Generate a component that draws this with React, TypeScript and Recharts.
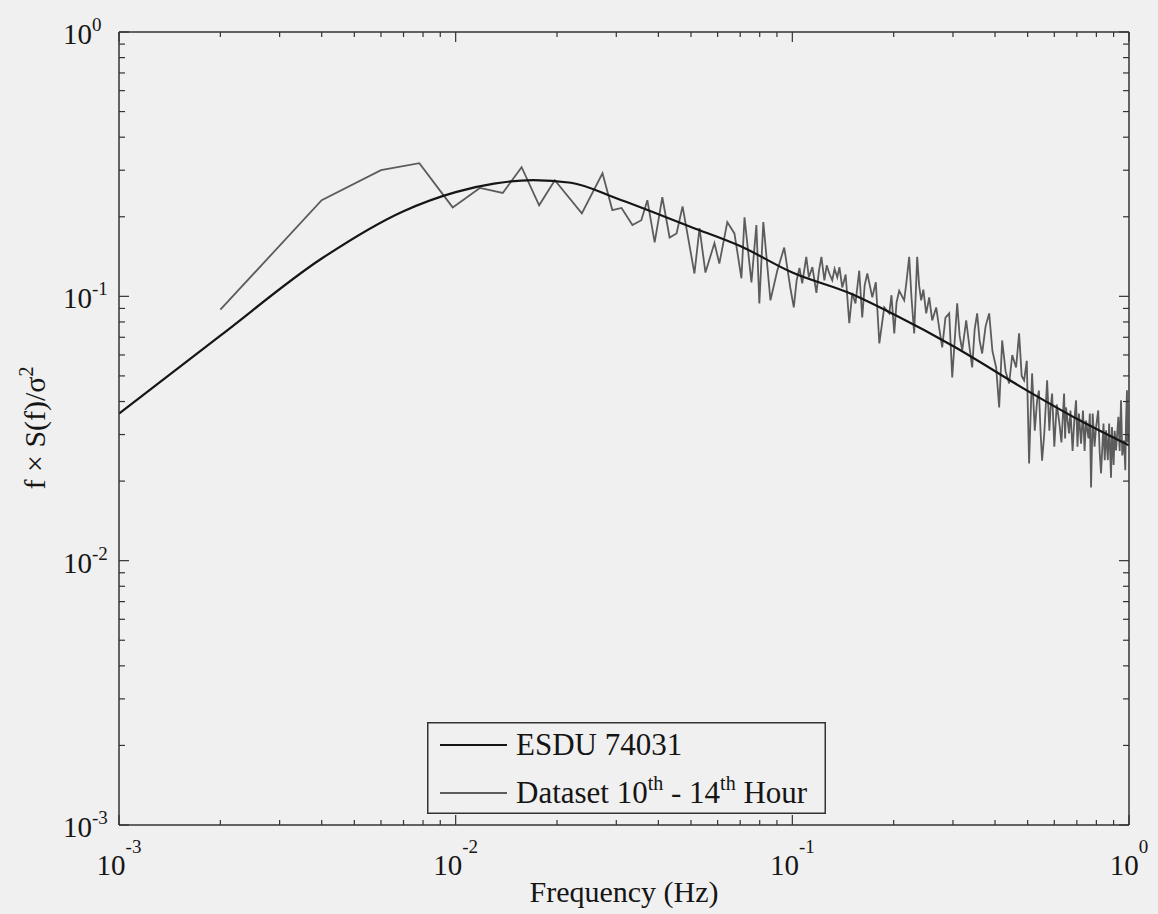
import React from 'react';
import { LineChart, Line, XAxis, YAxis, Legend } from 'recharts';

// log-log spectrum, both axes 10^-3 .. 10^0
const FREQ_TICKS = [
  0.001, 0.002, 0.003, 0.004, 0.005, 0.006, 0.007, 0.008, 0.009,
  0.01, 0.02, 0.03, 0.04, 0.05, 0.06, 0.07, 0.08, 0.09,
  0.1, 0.2, 0.3, 0.4, 0.5, 0.6, 0.7, 0.8, 0.9, 1,
];
const PSD_TICKS = [
  0.001, 0.002, 0.003, 0.004, 0.005, 0.006, 0.007, 0.008, 0.009,
  0.01, 0.02, 0.03, 0.04, 0.05, 0.06, 0.07, 0.08, 0.09,
  0.1, 0.2, 0.3, 0.4, 0.5, 0.6, 0.7, 0.8, 0.9, 1,
];

// ESDU 74031 model spectrum
const esduFreq = [0.001, 0.002, 0.004, 0.007, 0.01, 0.013, 0.017, 0.022, 0.03, 0.05, 0.07, 0.1, 0.15, 0.2, 0.3, 0.5, 0.7, 1.0];
const esduPsd = [0.036, 0.071, 0.139, 0.21, 0.248, 0.267, 0.275, 0.269, 0.235, 0.183, 0.155, 0.123, 0.102, 0.0855, 0.0649, 0.0439, 0.0344, 0.0273];

// measured spectrum, 10th - 14th hour (low / mid / high frequency stretches)
const lowFreq = [
  0.002, 0.004, 0.006, 0.0078, 0.0098, 0.0118, 0.0138, 0.0157, 0.0177, 0.0197,
  0.0237, 0.0273, 0.0292, 0.0311, 0.0335, 0.0356, 0.0371, 0.039, 0.0411, 0.0432,
  0.0453, 0.0472, 0.0512, 0.053, 0.0552, 0.0587, 0.0607, 0.0641, 0.0673, 0.0706,
  0.0721, 0.0756, 0.0782, 0.0798, 0.082, 0.0861, 0.0902, 0.0946, 0.0986, 0.101,
];
const lowPsd = [
  0.089, 0.231, 0.3, 0.319, 0.217, 0.257, 0.246, 0.308, 0.221, 0.275,
  0.206, 0.292, 0.212, 0.216, 0.186, 0.194, 0.231, 0.16, 0.237, 0.167,
  0.173, 0.219, 0.122, 0.181, 0.123, 0.159, 0.133, 0.191, 0.173, 0.117,
  0.199, 0.113, 0.186, 0.094, 0.191, 0.0966, 0.125, 0.153, 0.108, 0.0908,
];
const midFreq = [
  0.103, 0.105, 0.107, 0.11, 0.112, 0.1147, 0.1179, 0.12, 0.122, 0.1245,
  0.1265, 0.1288, 0.1314, 0.1335, 0.136, 0.138, 0.1407, 0.144, 0.1476, 0.1507,
  0.154, 0.158, 0.1613, 0.164, 0.167, 0.1728, 0.177, 0.1813, 0.1875, 0.1941,
  0.197, 0.2008, 0.204, 0.2077, 0.2149, 0.218, 0.2224, 0.226, 0.2301, 0.2349,
  0.238, 0.2414, 0.245, 0.2498, 0.255, 0.2603, 0.2675, 0.273, 0.2787, 0.285,
  0.2924, 0.2985, 0.3088, 0.314, 0.3196, 0.3284, 0.335, 0.3421, 0.348, 0.354,
  0.36, 0.3663, 0.375, 0.3843, 0.393, 0.4031, 0.4115, 0.42, 0.43, 0.4406,
  0.45, 0.462, 0.4716, 0.48, 0.488, 0.497,
];
const midPsd = [
  0.115, 0.128, 0.112, 0.141, 0.118, 0.129, 0.103, 0.125, 0.141, 0.115,
  0.131, 0.122, 0.115, 0.127, 0.118, 0.129, 0.108, 0.121, 0.0791, 0.103,
  0.094, 0.125, 0.0832, 0.11, 0.122, 0.0991, 0.113, 0.0664, 0.0908, 0.0862,
  0.101, 0.0724, 0.095, 0.105, 0.0966, 0.112, 0.141, 0.098, 0.0724, 0.141,
  0.11, 0.0966, 0.106, 0.0862, 0.099, 0.0811, 0.0908, 0.076, 0.0641, 0.083,
  0.0862, 0.0493, 0.0941, 0.071, 0.0625, 0.0811, 0.066, 0.0538, 0.075, 0.0862,
  0.068, 0.0608, 0.077, 0.0862, 0.062, 0.0538, 0.038, 0.0681, 0.052, 0.0468,
  0.06, 0.0538, 0.0724, 0.05, 0.0481, 0.057,
];
const highFreq = [
  0.505, 0.51, 0.5154, 0.525, 0.5334, 0.54, 0.546, 0.5519, 0.56, 0.5712,
  0.58, 0.585, 0.591, 0.6, 0.61, 0.6198, 0.63, 0.6415, 0.646, 0.65,
  0.6637, 0.67, 0.68, 0.688, 0.6962, 0.703, 0.71, 0.7205, 0.73, 0.738,
  0.7455, 0.758, 0.765, 0.7714, 0.78, 0.79, 0.7981, 0.81, 0.818, 0.826,
  0.84, 0.847, 0.8547, 0.865, 0.873, 0.8843, 0.89, 0.9, 0.907, 0.915,
  0.93, 0.938, 0.9469, 0.955, 0.9665, 0.975, 0.98, 0.9863, 0.99, 0.995,
];
const highPsd = [
  0.0233, 0.035, 0.0511, 0.031, 0.0404, 0.044, 0.031, 0.0239, 0.03, 0.0481,
  0.031, 0.038, 0.0429, 0.027, 0.039, 0.0339, 0.028, 0.0429, 0.029, 0.038,
  0.0303, 0.037, 0.026, 0.034, 0.0404, 0.027, 0.036, 0.0277, 0.037, 0.026,
  0.0339, 0.029, 0.036, 0.0189, 0.036, 0.027, 0.0319, 0.037, 0.026, 0.0214,
  0.033, 0.024, 0.0311, 0.024, 0.033, 0.0206, 0.032, 0.023, 0.031, 0.0261,
  0.035, 0.026, 0.0404, 0.025, 0.0285, 0.022, 0.034, 0.0441, 0.028, 0.03,
];

const esduData = esduFreq.map((f, i) => ({ f, v: esduPsd[i] }));
const datasetData = [...lowFreq, ...midFreq, ...highFreq].map((f, i) => ({
  f,
  v: [...lowPsd, ...midPsd, ...highPsd][i],
}));

const FONT = '"Liberation Serif", "Times New Roman", serif';
const BG = '#f0f0f0';
const AXIS = '#333';
const INK = '#151515';
const GREY = '#5c5c5c';

const isMajor = (v: number) => Math.abs(Math.log10(v) - Math.round(Math.log10(v))) < 1e-6;
const expOf = (v: number) => Math.round(Math.log10(v));

// ticks point inward, labels only on the major decades
const BottomTick = (props: any) => {
  const { x, y, payload } = props;
  const major = isMajor(payload.value);
  return (
    <g>
      <line x1={x} y1={y} x2={x} y2={y - (major ? 10 : 5)} stroke={AXIS} strokeWidth={1.2} />
      {major && (
        <text x={x} y={y + 50} textAnchor="middle" fontFamily={FONT} fontSize={29} fill={INK}>
          10<tspan dy={-22} fontSize={19}>{expOf(payload.value)}</tspan>
        </text>
      )}
    </g>
  );
};

const TopTick = (props: any) => {
  const { x, y, payload } = props;
  const major = isMajor(payload.value);
  return <line x1={x} y1={y} x2={x} y2={y + (major ? 10 : 5)} stroke={AXIS} strokeWidth={1.2} />;
};

const LeftTick = (props: any) => {
  const { x, y, payload } = props;
  const major = isMajor(payload.value);
  return (
    <g>
      <line x1={x} y1={y} x2={x + (major ? 10 : 6)} y2={y} stroke={AXIS} strokeWidth={1.2} />
      {major && (
        <text x={63} y={y + 12} textAnchor="start" fontFamily={FONT} fontSize={29} fill={INK}>
          10<tspan dy={-13} fontSize={19}>{expOf(payload.value)}</tspan>
        </text>
      )}
    </g>
  );
};

const RightTick = (props: any) => {
  const { x, y, payload } = props;
  const major = isMajor(payload.value);
  return <line x1={x} y1={y} x2={x - (major ? 10 : 6)} y2={y} stroke={AXIS} strokeWidth={1.2} />;
};

const LegendBox = () => (
  <svg width={399} height={92} style={{ display: 'block' }}>
    <rect x={0.75} y={0.75} width={397.5} height={90.5} fill={BG} stroke={AXIS} strokeWidth={1.5} />
    <line x1={13} y1={23} x2={80} y2={23} stroke={INK} strokeWidth={2.2} />
    <text x={89} y={33} fontFamily={FONT} fontSize={31} fill={INK}>ESDU 74031</text>
    <line x1={13} y1={71} x2={80} y2={71} stroke={GREY} strokeWidth={1.8} />
    <text x={89} y={81} fontFamily={FONT} fontSize={31} fill={INK}>
      Dataset 10<tspan dy={-13} fontSize={20}>th</tspan>
      <tspan dy={13}> - 14</tspan>
      <tspan dy={-13} fontSize={20}>th</tspan>
      <tspan dy={13}> Hour</tspan>
    </text>
  </svg>
);

export default function App() {
  const axisLine = { stroke: AXIS, strokeWidth: 1.5 };
  return (
    <div style={{ position: 'absolute', left: 0, top: 0, width: 1158, height: 914, background: BG }}>
      <LineChart width={1158} height={914} margin={{ top: 31, right: 28, bottom: 88, left: 118 }}>
        <XAxis xAxisId="b" dataKey="f" type="number" scale="log" domain={[0.001, 1]} allowDataOverflow
          ticks={FREQ_TICKS} interval={0} tick={BottomTick} tickLine={false} tickSize={0} tickMargin={0}
          height={1} axisLine={axisLine} />
        <XAxis xAxisId="t" orientation="top" dataKey="f" type="number" scale="log" domain={[0.001, 1]} allowDataOverflow
          ticks={FREQ_TICKS} interval={0} tick={TopTick} tickLine={false} tickSize={0} tickMargin={0}
          height={1} axisLine={axisLine} />
        <YAxis yAxisId="l" type="number" scale="log" domain={[0.001, 1]} allowDataOverflow
          ticks={PSD_TICKS} interval={0} tick={LeftTick} tickLine={false} tickSize={0} tickMargin={0}
          width={1} axisLine={axisLine} />
        <YAxis yAxisId="r" orientation="right" type="number" scale="log" domain={[0.001, 1]} allowDataOverflow
          ticks={PSD_TICKS} interval={0} tick={RightTick} tickLine={false} tickSize={0} tickMargin={0}
          width={1} axisLine={axisLine} />
        <Line xAxisId="b" yAxisId="l" data={datasetData} dataKey="v" name="Dataset 10th - 14th Hour"
          type="linear" stroke={GREY} strokeWidth={1.8} dot={false} isAnimationActive={false} />
        <Line xAxisId="t" yAxisId="r" data={esduData} dataKey="v" name="ESDU 74031"
          type="monotone" stroke={INK} strokeWidth={2.2} dot={false} isAnimationActive={false} />
        <Legend layout="vertical" align="center" verticalAlign="middle" content={LegendBox}
          wrapperStyle={{ position: 'absolute', left: 427, top: 722, width: 399, height: 92, margin: 0 }} />
      </LineChart>
      <svg width={1158} height={914} style={{ position: 'absolute', left: 0, top: 0, pointerEvents: 'none' }}>
        <text x={624} y={902} textAnchor="middle" fontFamily={FONT} fontSize={30} fill={INK}>Frequency (Hz)</text>
        <text transform="translate(45, 428) rotate(-90)" textAnchor="middle" fontFamily={FONT} fontSize={30} fill={INK}>
          f × S(f)/σ<tspan dy={-12} fontSize={20}>2</tspan>
        </text>
      </svg>
    </div>
  );
}
